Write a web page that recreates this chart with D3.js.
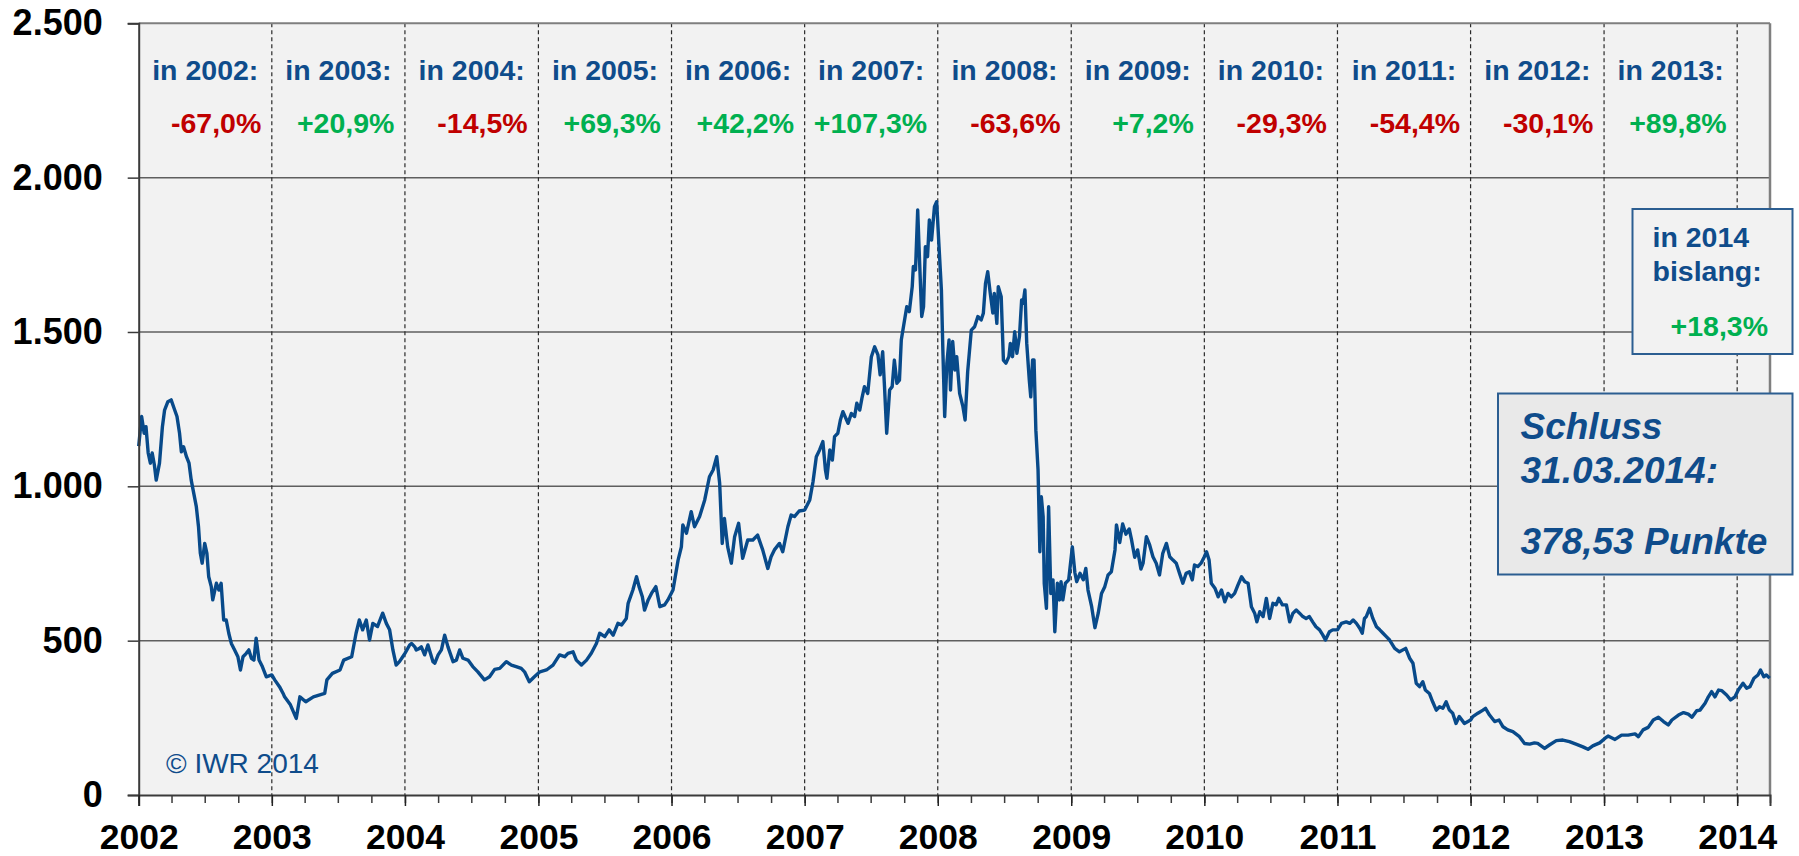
<!DOCTYPE html>
<html>
<head>
<meta charset="utf-8">
<script src="https://cdn.jsdelivr.net/npm/d3@7/dist/d3.min.js"></script>
<style>
  body { margin: 0; background: #fff; }
  text { font-family: "Liberation Sans", Arial, sans-serif; }
</style>
</head>
<body>
<div id="chart"></div>
<script>
// index closes, one line per year
const dates = [
  "2002-01-01","2002-01-09","2002-01-16","2002-01-21","2002-01-27","2002-02-02","2002-02-07","2002-02-13","2002-02-18","2002-02-27",
  "2002-03-07","2002-03-13","2002-03-22","2002-03-31","2002-04-08","2002-04-16","2002-04-23","2002-04-28","2002-05-04","2002-05-12",
  "2002-05-19","2002-05-25","2002-06-01","2002-06-08","2002-06-14","2002-06-19","2002-06-24","2002-07-01","2002-07-07","2002-07-12",
  "2002-07-19","2002-07-23","2002-08-02","2002-08-09","2002-08-15","2002-08-22","2002-08-29","2002-09-05","2002-09-12","2002-09-21",
  "2002-09-30","2002-10-07","2002-10-14","2002-10-23","2002-10-30","2002-11-06","2002-11-13","2002-11-19","2002-11-27","2002-12-06",
  "2002-12-17",
  "2003-01-01","2003-01-09","2003-01-22","2003-02-01","2003-02-05","2003-02-21","2003-03-09","2003-03-19","2003-04-04","2003-04-25",
  "2003-05-26","2003-06-01","2003-06-16","2003-07-07","2003-07-17","2003-08-08","2003-08-20","2003-08-29","2003-09-07","2003-09-17",
  "2003-09-26","2003-10-05","2003-10-18","2003-11-01","2003-11-11","2003-11-20","2003-11-29","2003-12-08","2003-12-17","2003-12-26",
  "2004-01-01","2004-01-14","2004-01-19","2004-01-28","2004-02-01","2004-02-10","2004-02-15","2004-02-24","2004-03-04","2004-03-18",
  "2004-03-23","2004-04-01","2004-04-10","2004-04-19","2004-04-28","2004-05-12","2004-05-21","2004-05-30","2004-06-08","2004-06-22",
  "2004-07-05","2004-07-19","2004-08-06","2004-08-20","2004-09-03","2004-09-17","2004-10-05","2004-10-19","2004-11-01","2004-11-15",
  "2004-11-24","2004-12-07","2004-12-21",
  "2005-01-05","2005-01-23","2005-02-10","2005-02-28","2005-03-14","2005-03-23","2005-04-06","2005-04-15","2005-04-29","2005-05-13",
  "2005-05-26","2005-06-09","2005-06-18","2005-07-02","2005-07-14","2005-07-25","2005-08-07","2005-08-17","2005-08-30","2005-09-04",
  "2005-09-17","2005-09-27","2005-10-04","2005-10-13","2005-10-19","2005-10-29","2005-11-07","2005-11-19","2005-11-30","2005-12-13",
  "2005-12-22",
  "2006-01-05","2006-01-19","2006-01-28","2006-02-01","2006-02-11","2006-02-24","2006-03-05","2006-03-19","2006-04-02","2006-04-15",
  "2006-04-25","2006-05-05","2006-05-13","2006-05-20","2006-05-26","2006-06-04","2006-06-14","2006-06-23","2006-07-04","2006-07-15",
  "2006-07-29","2006-08-12","2006-08-25","2006-09-08","2006-09-22","2006-10-01","2006-10-10","2006-10-24","2006-11-02","2006-11-16",
  "2006-11-25","2006-12-04","2006-12-17",
  "2007-01-01","2007-01-15","2007-01-24","2007-02-02","2007-02-11","2007-02-20","2007-02-27","2007-03-03","2007-03-11","2007-03-18",
  "2007-03-24","2007-04-02","2007-04-09","2007-04-16","2007-04-30","2007-05-09","2007-05-18","2007-05-24","2007-06-01","2007-06-07",
  "2007-06-14","2007-06-23","2007-07-03","2007-07-12","2007-07-21","2007-07-27","2007-08-03","2007-08-08","2007-08-14","2007-08-22",
  "2007-08-29","2007-09-04","2007-09-11","2007-09-18","2007-09-23","2007-10-02","2007-10-08","2007-10-15","2007-10-23","2007-10-26",
  "2007-11-01","2007-11-07","2007-11-12","2007-11-18","2007-11-23","2007-11-28","2007-12-04","2007-12-09","2007-12-15","2007-12-23",
  "2007-12-29",
  "2008-01-04","2008-01-11","2008-01-15","2008-01-20","2008-01-26","2008-02-01","2008-02-05","2008-02-11","2008-02-17","2008-02-22",
  "2008-03-01","2008-03-10","2008-03-16","2008-03-23","2008-04-02","2008-04-11","2008-04-20","2008-04-29","2008-05-05","2008-05-11",
  "2008-05-17","2008-05-24","2008-05-31","2008-06-04","2008-06-11","2008-06-15","2008-06-23","2008-06-29","2008-07-06","2008-07-14",
  "2008-07-18","2008-07-24","2008-07-30","2008-08-05","2008-08-12","2008-08-18","2008-08-22","2008-08-27","2008-09-01","2008-09-08",
  "2008-09-12","2008-09-17","2008-09-21","2008-09-26","2008-10-02","2008-10-07","2008-10-11","2008-10-16","2008-10-19","2008-10-25",
  "2008-10-31","2008-11-06","2008-11-12","2008-11-17","2008-11-24","2008-11-30","2008-12-04","2008-12-09","2008-12-16","2008-12-25",
  "2009-01-04","2009-01-11","2009-01-16","2009-01-25","2009-02-03","2009-02-10","2009-02-16","2009-02-26","2009-03-07","2009-03-16",
  "2009-03-25","2009-04-03","2009-04-12","2009-04-21","2009-05-01","2009-05-05","2009-05-14","2009-05-22","2009-05-31","2009-06-09",
  "2009-06-15","2009-06-24","2009-07-02","2009-07-11","2009-07-17","2009-07-26","2009-08-04","2009-08-13","2009-08-22","2009-08-31",
  "2009-09-09","2009-09-19","2009-09-28","2009-10-07","2009-10-16","2009-10-25","2009-11-03","2009-11-12","2009-11-21","2009-11-29",
  "2009-12-05","2009-12-14","2009-12-23",
  "2010-01-01","2010-01-07","2010-01-14","2010-01-20","2010-01-30","2010-02-08","2010-02-17","2010-02-26","2010-03-07","2010-03-16",
  "2010-03-25","2010-04-03","2010-04-13","2010-04-22","2010-05-01","2010-05-10","2010-05-19","2010-05-25","2010-06-02","2010-06-11",
  "2010-06-20","2010-06-29","2010-07-08","2010-07-17","2010-07-24","2010-08-03","2010-08-14","2010-08-23","2010-09-01","2010-09-10",
  "2010-09-19","2010-09-28","2010-10-07","2010-10-16","2010-10-25","2010-11-03","2010-11-13","2010-11-22","2010-11-29","2010-12-10",
  "2010-12-19",
  "2011-01-01","2011-01-12","2011-01-25","2011-02-04","2011-02-13","2011-02-22","2011-03-03","2011-03-10","2011-03-16","2011-03-21",
  "2011-03-30","2011-04-08","2011-04-18","2011-04-27","2011-05-06","2011-05-15","2011-05-24","2011-06-07","2011-06-20","2011-07-07",
  "2011-07-18","2011-07-27","2011-08-05","2011-08-14","2011-08-23","2011-08-30","2011-09-10","2011-09-19","2011-09-29","2011-10-08",
  "2011-10-17","2011-10-26","2011-11-04","2011-11-13","2011-11-22","2011-12-01","2011-12-15",
  "2012-01-01","2012-01-07","2012-01-21","2012-02-04","2012-02-11","2012-02-22","2012-03-07","2012-03-19","2012-03-30","2012-04-12",
  "2012-04-26","2012-05-14","2012-05-28","2012-06-11","2012-06-24","2012-07-03","2012-07-22","2012-08-04","2012-08-23","2012-09-10",
  "2012-09-28","2012-10-16","2012-11-04","2012-11-18","2012-12-01","2012-12-20",
  "2013-01-04","2013-01-12","2013-01-31","2013-02-18","2013-03-08","2013-03-27","2013-04-05","2013-04-18","2013-05-02","2013-05-16",
  "2013-05-30","2013-06-13","2013-06-26","2013-07-06","2013-07-24","2013-08-07","2013-08-20","2013-08-30","2013-09-12","2013-09-21",
  "2013-10-05","2013-10-14","2013-10-23","2013-11-01","2013-11-11","2013-11-20","2013-12-03","2013-12-14","2013-12-26",
  "2014-01-04","2014-01-17","2014-01-27","2014-02-05","2014-02-16","2014-02-27","2014-03-06","2014-03-15","2014-03-22","2014-03-31"
];

const closes = [
  1130,1226,1172,1193,1108,1075,1108,1069,1020,1075,
  1193,1247,1274,1280,1253,1226,1172,1112,1128,1096,
  1075,1020,977,934,869,783,751,815,783,707,
  675,632,686,664,686,567,567,524,491,470,
  448,405,448,459,470,443,437,508,437,416,
  383,
  389,373,351,329,318,292,248,318,302,318,
  329,373,394,405,437,448,524,567,535,567,
  502,556,546,589,556,535,470,421,432,448,
  459,486,491,480,470,475,480,454,486,432,
  427,454,470,518,480,432,437,470,443,437,
  416,399,373,383,407,410,432,421,416,410,
  399,367,383,
  399,405,421,454,448,459,464,437,421,437,
  459,491,524,513,535,518,556,551,572,621,
  664,707,675,642,599,632,653,675,610,616,
  632,
  664,761,804,875,848,918,869,902,956,1031,
  1053,1096,1010,815,896,804,751,837,880,767,
  826,826,842,794,734,772,794,815,788,869,
  907,902,920,
  923,956,1015,1096,1118,1145,1053,1026,1118,1085,
  1161,1172,1215,1242,1204,1236,1226,1269,1247,1285,
  1323,1301,1420,1452,1426,1361,1436,1323,1172,1312,
  1323,1409,1334,1344,1474,1539,1582,1566,1647,1712,
  1701,1895,1733,1550,1582,1776,1744,1863,1798,1906,
  1922,
  1787,1636,1442,1226,1399,1474,1312,1469,1377,1420,
  1301,1258,1215,1371,1506,1517,1550,1539,1561,1658,
  1695,1625,1561,1625,1528,1647,1614,1409,1399,1420,
  1463,1420,1501,1431,1485,1604,1593,1636,1463,1344,
  1290,1409,1409,1182,1053,788,966,902,686,605,
  934,653,697,529,686,632,691,632,686,697,
  804,720,691,718,697,734,664,610,542,589,
  653,675,713,723,794,875,818,878,845,862,
  829,770,794,732,751,837,810,772,751,713,
  783,815,772,761,751,718,686,718,723,697,
  745,740,751,
  772,788,761,686,670,642,664,626,653,642,
  653,680,707,691,686,610,589,561,594,578,
  637,572,621,616,637,616,616,561,589,599,
  589,578,572,578,561,545,535,518,502,529,
  535,
  535,556,561,556,567,556,540,524,572,578,
  605,572,545,535,524,513,502,475,464,475,
  443,427,362,351,367,340,329,302,275,286,
  281,302,275,265,232,254,232,
  243,254,265,275,281,259,238,243,221,211,
  205,189,167,165,169,167,151,162,176,178,
  173,165,156,148,159,169,
  184,191,180,194,194,198,189,211,219,243,
  252,238,227,243,259,267,262,252,273,275,
  297,318,335,318,340,338,324,308,318,
  340,362,346,351,378,389,405,383,389,378.53
];

const years = [2002, 2003, 2004, 2005, 2006, 2007, 2008, 2009, 2010, 2011, 2012, 2013];
const yearChanges = [-67.0, 20.9, -14.5, 69.3, 42.2, 107.3, -63.6, 7.2, -29.3, -54.4, -30.1, 89.8];
const yTicks = [0, 500, 1000, 1500, 2000, 2500];
const ytdChange = 18.3;
const closeDate = "31.03.2014";
const closeValue = 378.53;

const blue = "#0f4c8b";
const red = "#c00000";
const green = "#00b050";

const de = d3.formatLocale({ decimal: ",", thousands: ".", grouping: [3], currency: ["", " €"], minus: "-" });
const fmtInt = de.format(",.0f");
const fmtPct = de.format("+.1f");
const fmtVal = de.format(",.2f");

const parseDate = d3.timeParse("%Y-%m-%d");
const data = dates.map((d, i) => ({ date: parseDate(d), value: closes[i] }));

const width = 1799;
const height = 856;
const margin = { top: 23.3, right: 29, bottom: 61, left: 138.7 };
const plotW = width - margin.left - margin.right;
const plotH = height - margin.top - margin.bottom;

const svg = d3
  .select("#chart")
  .append("svg")
  .attr("width", width)
  .attr("height", height);

const g = svg.append("g").attr("transform", `translate(${margin.left},${margin.top})`);

const xScale = d3
  .scaleTime()
  .domain([new Date(2002, 0, 1), new Date(2014, 3, 1)])
  .range([0, plotW]);

const yScale = d3.scaleLinear().domain([0, 2500]).range([plotH, 0]);

// plot background
g.append("rect")
  .attr("width", plotW)
  .attr("height", plotH)
  .attr("fill", "#f2f2f2");

// horizontal grid
g.selectAll(".hgrid")
  .data(yTicks.filter((t) => t > 0 && t < 2500))
  .join("line")
  .attr("class", "hgrid")
  .attr("x1", 0)
  .attr("x2", plotW)
  .attr("y1", (d) => yScale(d))
  .attr("y2", (d) => yScale(d))
  .attr("stroke", "#5f5f5f")
  .attr("stroke-width", 1.5);

// year separators (dashed)
const yearStarts = d3.timeYear.range(new Date(2003, 0, 1), new Date(2014, 3, 1));
g.selectAll(".vgrid")
  .data(yearStarts)
  .join("line")
  .attr("class", "vgrid")
  .attr("x1", (d) => xScale(d))
  .attr("x2", (d) => xScale(d))
  .attr("y1", 0)
  .attr("y2", plotH)
  .attr("stroke", "#2a2a2a")
  .attr("stroke-width", 1.2)
  .attr("stroke-dasharray", "4,3");

// top and right frame
g.append("line")
  .attr("x1", 0).attr("x2", plotW)
  .attr("y1", 0).attr("y2", 0)
  .attr("stroke", "#7f7f7f")
  .attr("stroke-width", 2);
g.append("line")
  .attr("x1", plotW).attr("x2", plotW)
  .attr("y1", 0).attr("y2", plotH)
  .attr("stroke", "#7f7f7f")
  .attr("stroke-width", 2.5);

// index line
const line = d3
  .line()
  .x((d) => xScale(d.date))
  .y((d) => yScale(d.value));

g.append("path")
  .datum(data)
  .attr("fill", "none")
  .attr("stroke", "#084a8a")
  .attr("stroke-width", 3.4)
  .attr("stroke-linejoin", "round")
  .attr("d", line);

// y axis
const yAxis = g
  .append("g")
  .call(
    d3.axisLeft(yScale)
      .tickValues(yTicks)
      .tickSize(11)
      .tickPadding(25)
      .tickFormat(fmtInt)
  );
yAxis.select(".domain").attr("stroke", "#3a3a3a").attr("stroke-width", 2);
yAxis.selectAll(".tick line").attr("stroke", "#3a3a3a").attr("stroke-width", 1.5);
yAxis.selectAll("text")
  .attr("fill", "#000")
  .style("font-size", "36px")
  .style("font-weight", "bold");

// x axis: quarterly minor ticks, yearly labels
const xMinor = g
  .append("g")
  .attr("transform", `translate(0,${plotH})`)
  .call(
    d3.axisBottom(xScale)
      .ticks(d3.timeMonth.every(3))
      .tickSize(8)
      .tickFormat("")
  );
xMinor.select(".domain").remove();
xMinor.selectAll(".tick line").attr("stroke", "#3a3a3a").attr("stroke-width", 1.5);

const xAxis = g
  .append("g")
  .attr("transform", `translate(0,${plotH})`)
  .call(
    d3.axisBottom(xScale)
      .ticks(d3.timeYear.every(1))
      .tickSize(11)
      .tickPadding(18)
      .tickFormat(d3.timeFormat("%Y"))
  );
xAxis.select(".domain").attr("stroke", "#3a3a3a").attr("stroke-width", 2);
xAxis.selectAll(".tick line").attr("stroke", "#222").attr("stroke-width", 1.5);
xAxis.selectAll("text")
  .attr("fill", "#000")
  .style("font-size", "35.5px")
  .style("font-weight", "bold");

// yearly change labels along the top
const yearCols = years.map((yr, i) => {
  const x0 = xScale(new Date(yr, 0, 1));
  const x1 = xScale(new Date(yr + 1, 0, 1));
  return { year: yr, change: yearChanges[i], cx: (x0 + x1) / 2 };
});

g.selectAll(".yr-label")
  .data(yearCols)
  .join("text")
  .attr("class", "yr-label")
  .attr("x", (d) => d.cx)
  .attr("y", 80 - margin.top)
  .attr("text-anchor", "middle")
  .attr("fill", blue)
  .style("font-size", "28.5px")
  .style("font-weight", "bold")
  .text((d) => `in ${d.year}:`);

g.selectAll(".yr-change")
  .data(yearCols)
  .join("text")
  .attr("class", "yr-change")
  .attr("x", (d) => d.cx + 56)
  .attr("y", 133 - margin.top)
  .attr("text-anchor", "end")
  .attr("fill", (d) => (d.change < 0 ? red : green))
  .style("font-size", "28.5px")
  .style("font-weight", "bold")
  .text((d) => `${fmtPct(d.change)}%`);

// copyright
svg.append("text")
  .attr("x", 166)
  .attr("y", 773)
  .attr("fill", blue)
  .style("font-size", "28px")
  .text("© IWR 2014");

// year-to-date box
const ytd = svg.append("g");
ytd.append("rect")
  .attr("x", 1632.5)
  .attr("y", 209)
  .attr("width", 160)
  .attr("height", 145)
  .attr("fill", "#f2f2f2")
  .attr("stroke", "#2c5e91")
  .attr("stroke-width", 2);
ytd.selectAll("text.ytd")
  .data(["in 2014", "bislang:"])
  .join("text")
  .attr("class", "ytd")
  .attr("x", 1652.5)
  .attr("y", (d, i) => 246.5 + i * 34.5)
  .attr("fill", blue)
  .style("font-size", "28.5px")
  .style("font-weight", "bold")
  .text((d) => d);
ytd.append("text")
  .attr("x", 1768)
  .attr("y", 336)
  .attr("text-anchor", "end")
  .attr("fill", green)
  .style("font-size", "28.5px")
  .style("font-weight", "bold")
  .text(`${fmtPct(ytdChange)}%`);

// closing value box
const closeBox = svg.append("g");
closeBox.append("rect")
  .attr("x", 1498)
  .attr("y", 393.5)
  .attr("width", 294.5)
  .attr("height", 181)
  .attr("fill", "#e9e9e9")
  .attr("stroke", "#2c5e91")
  .attr("stroke-width", 2);
closeBox.selectAll("text")
  .data([
    { t: "Schluss", y: 439 },
    { t: `${closeDate}:`, y: 483 },
    { t: `${fmtVal(closeValue)} Punkte`, y: 554 },
  ])
  .join("text")
  .attr("x", 1520.5)
  .attr("y", (d) => d.y)
  .attr("fill", blue)
  .style("font-size", "37px")
  .style("font-weight", "bold")
  .style("font-style", "italic")
  .text((d) => d.t);
</script>
</body>
</html>
